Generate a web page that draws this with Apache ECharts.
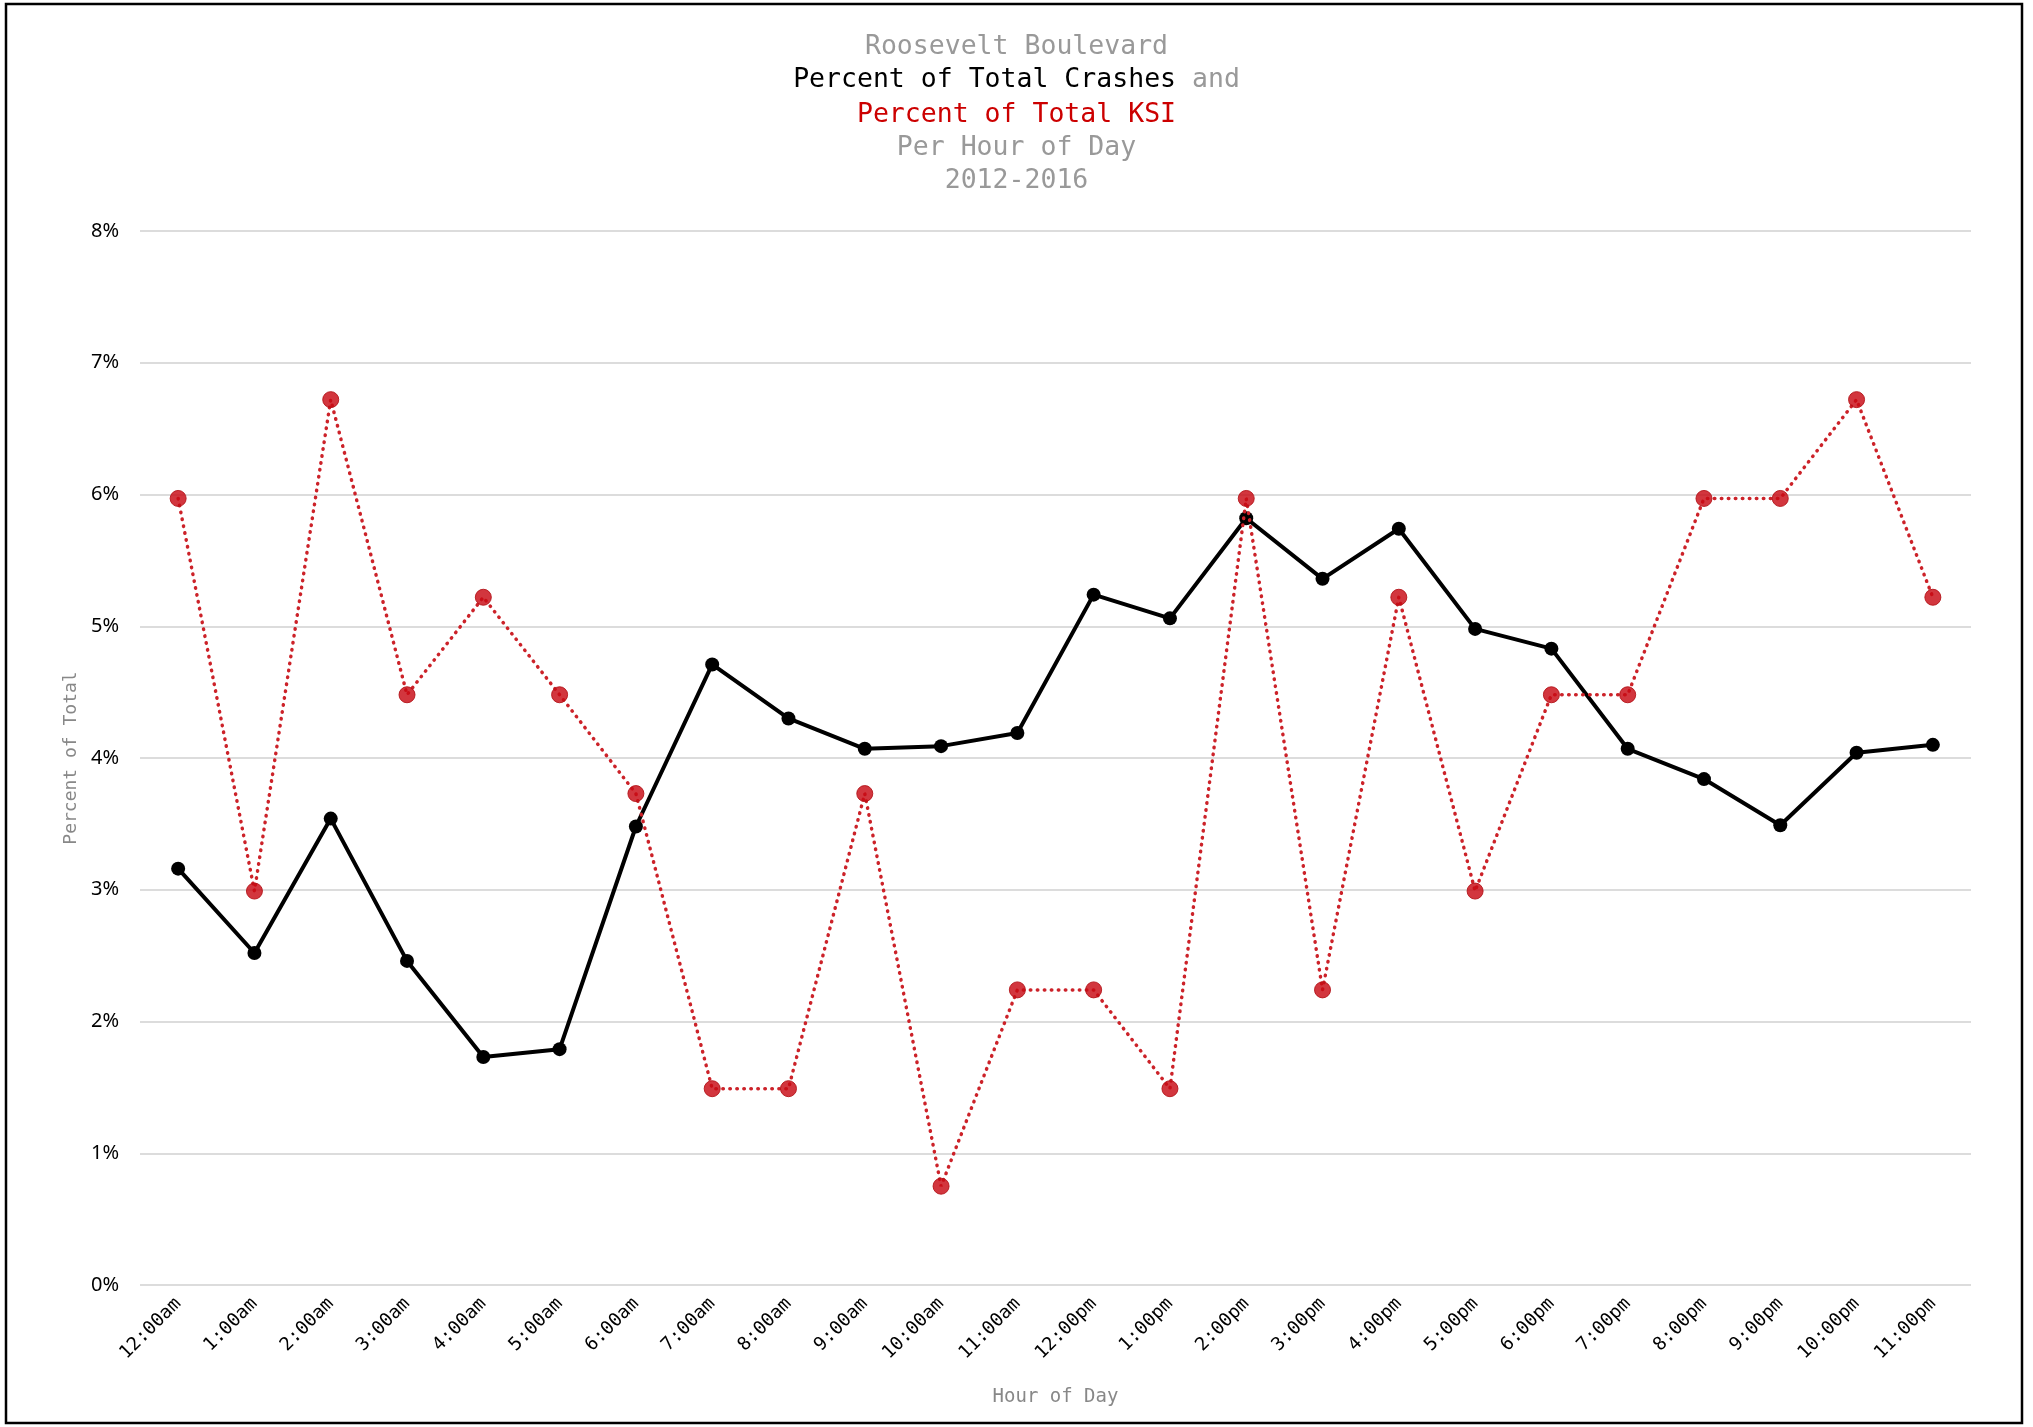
<!DOCTYPE html>
<html>
<head>
<meta charset="utf-8">
<title>Roosevelt Boulevard crashes per hour</title>
<script src="https://cdn.jsdelivr.net/npm/echarts@6/dist/echarts.min.js"></script>
<style>
  html, body { margin: 0; padding: 0; background: #fff; }
  #main { width: 2033px; height: 1427px; }
</style>
</head>
<body>
<div id="main"></div>
<script>
// hours of day
const hours = ['12:00am', '1:00am', '2:00am', '3:00am', '4:00am', '5:00am', '6:00am', '7:00am',
  '8:00am', '9:00am', '10:00am', '11:00am', '12:00pm', '1:00pm', '2:00pm', '3:00pm',
  '4:00pm', '5:00pm', '6:00pm', '7:00pm', '8:00pm', '9:00pm', '10:00pm', '11:00pm'];

// percent of total crashes
const crashPct = [3.16, 2.52, 3.54, 2.46, 1.73, 1.79, 3.48, 4.71, 4.30, 4.07, 4.09, 4.19,
  5.24, 5.06, 5.82, 5.36, 5.74, 4.98, 4.83, 4.07, 3.84, 3.49, 4.04, 4.10];

// percent of total KSI
const ksiPct = [5.97, 2.99, 6.72, 4.48, 5.22, 4.48, 3.73, 1.49, 1.49, 3.73, 0.75, 2.24,
  2.24, 1.49, 5.97, 2.24, 5.22, 2.99, 4.48, 4.48, 5.97, 5.97, 6.72, 5.22];

const yTicks = [0, 1, 2, 3, 4, 5, 6, 7, 8];

const mono = '"DejaVu Sans Mono", monospace';
const grey = '#999999';
const red = '#cc0000';

const titleLine = (text, center, rich) => ({
  text: text,
  left: 'center',
  top: center - 15,
  padding: 0,
  textStyle: {
    fontFamily: mono, fontSize: 26.5, fontWeight: 'normal', color: grey, lineHeight: 30,
    rich: rich
  }
});

const richTitle = {
  k: { fontFamily: mono, fontSize: 26.5, color: '#000', lineHeight: 30 },
  g: { fontFamily: mono, fontSize: 26.5, color: grey, lineHeight: 30 }
};

const chart = echarts.init(document.getElementById('main'));

chart.setOption({
  backgroundColor: '#fff',
  animation: false,
  title: [
    titleLine('Roosevelt Boulevard', 47),
    titleLine('{k|Percent of Total Crashes} {g|and}', 80, richTitle),
    {
      text: 'Percent of Total KSI', left: 'center', top: 115 - 15, padding: 0,
      textStyle: { fontFamily: mono, fontSize: 26.5, fontWeight: 'normal', color: red, lineHeight: 30 }
    },
    titleLine('Per Hour of Day', 148),
    titleLine('2012-2016', 181)
  ],
  graphic: [
    {
      type: 'rect',
      shape: { x: 6, y: 4, width: 2016, height: 1419 },
      style: { fill: 'none', stroke: '#000', lineWidth: 2.5 },
      silent: true
    }
  ],
  grid: {
    left: 140, right: 62, top: 231, bottom: 142,
    outerBoundsMode: 'none'
  },
  xAxis: {
    type: 'category',
    data: hours,
    boundaryGap: true,
    name: 'Hour of Day',
    nameLocation: 'middle',
    nameGap: 103,
    nameTextStyle: { fontFamily: mono, fontSize: 19, color: '#888' },
    axisLine: { show: false },
    axisTick: { show: false },
    axisLabel: {
      rotate: 45, margin: 16, interval: 0,
      fontFamily: mono, fontSize: 18.5, color: '#000'
    },
    splitLine: { show: false }
  },
  yAxis: {
    type: 'value',
    min: yTicks[0],
    max: yTicks[yTicks.length - 1],
    interval: 1,
    name: 'Percent of Total',
    nameLocation: 'middle',
    nameGap: 57,
    nameTextStyle: { fontFamily: mono, fontSize: 18, color: '#888' },
    axisLine: { show: false },
    axisTick: { show: false },
    axisLabel: {
      formatter: '{value}%', margin: 21,
      fontFamily: '"Noto Sans", sans-serif', fontSize: 20, color: '#000'
    },
    splitLine: { lineStyle: { color: '#dcdcdc', width: 2 } }
  },
  series: [
    {
      name: 'Percent of Total Crashes',
      type: 'line',
      data: crashPct,
      symbol: 'circle',
      symbolSize: 14,
      lineStyle: { color: '#000', width: 4 },
      itemStyle: { color: '#000' },
      z: 2
    },
    {
      // KSI drawn on top, round dots
      name: 'Percent of Total KSI',
      type: 'line',
      data: ksiPct,
      symbol: 'circle',
      symbolSize: 16,
      lineStyle: { color: '#cc2229', width: 3.5, type: [0.5, 6.5], cap: 'round' },
      itemStyle: { color: 'rgba(200,10,20,0.82)', borderColor: 'rgba(180,20,25,0.9)', borderWidth: 1 },
      z: 3
    }
  ]
});
</script>
</body>
</html>
